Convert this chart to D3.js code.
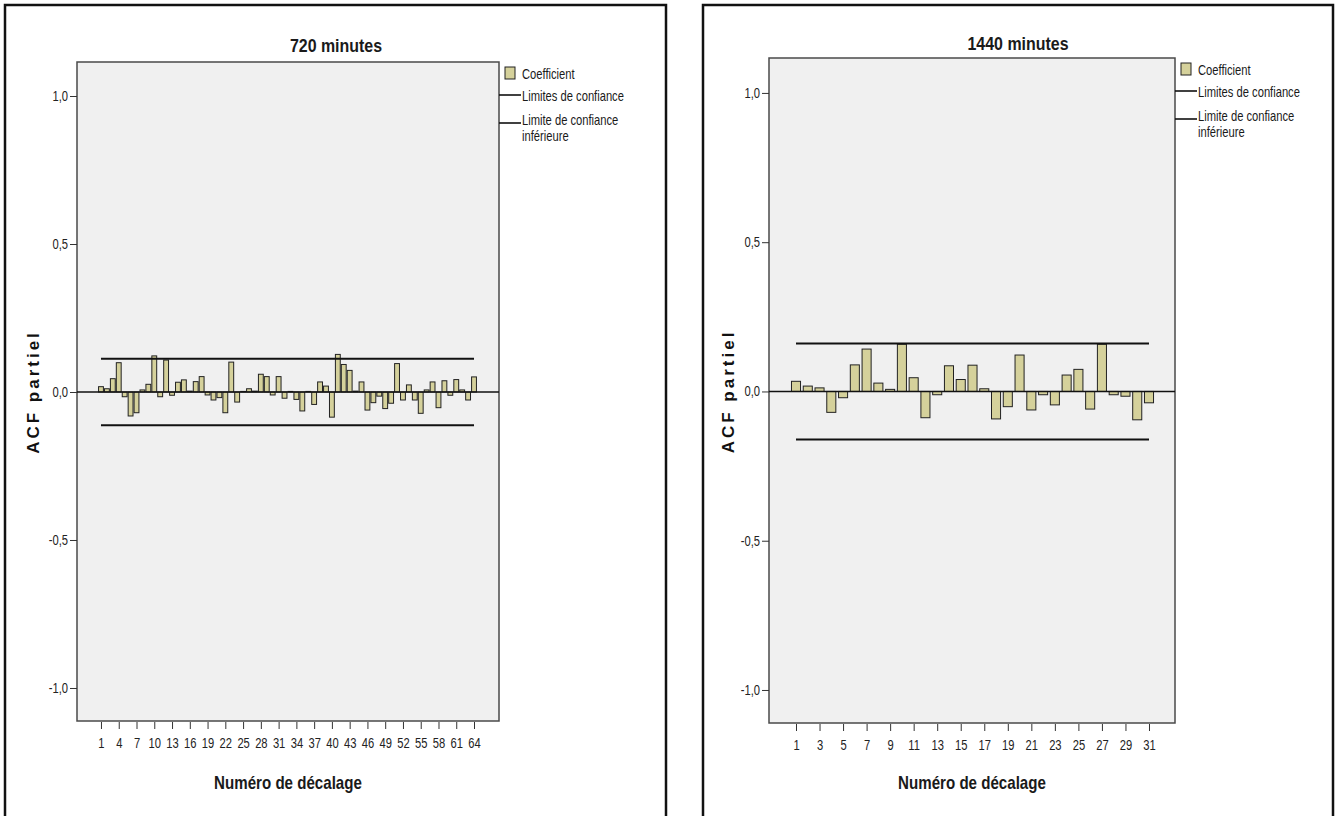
<!DOCTYPE html>
<html lang="fr">
<head>
<meta charset="utf-8">
<title>ACF partiel</title>
<script src="https://cdn.jsdelivr.net/npm/d3@7"></script>
<style>
  body, html { margin: 0; background: #fff; overflow: hidden; }
  svg { display: block; font-family: "Liberation Sans", Arial, sans-serif; }
</style>
</head>
<body>
<svg width="1339" height="816"></svg>
<script>
// partial autocorrelation coefficients per lag
const lags720 = d3.range(1, 65);
const pacf720 = [0.018, 0.011, 0.045, 0.099, -0.016, -0.081, -0.070, 0.007, 0.026, 0.122,
                 -0.016, 0.108, -0.011, 0.033, 0.041, 0.003, 0.035, 0.052, -0.010, -0.027,
                 -0.019, -0.070, 0.101, -0.034, 0.002, 0.011, 0.003, 0.060, 0.052, -0.010,
                 0.052, -0.021, 0.002, -0.025, -0.064, 0.002, -0.042, 0.034, 0.020, -0.085,
                 0.127, 0.093, 0.073, 0.003, 0.034, -0.061, -0.036, -0.014, -0.056, -0.038,
                 0.096, -0.027, 0.024, -0.027, -0.072, 0.007, 0.034, -0.053, 0.038, -0.011,
                 0.042, 0.007, -0.027, 0.051];
const conf720 = 0.112;
const xTicks720 = d3.range(1, 65, 3);

const lags1440 = d3.range(1, 32);
const pacf1440 = [0.034, 0.018, 0.012, -0.070, -0.021, 0.089, 0.142, 0.028, 0.007, 0.158,
                  0.046, -0.088, -0.011, 0.086, 0.040, 0.088, 0.009, -0.092, -0.051, 0.122,
                  -0.062, -0.011, -0.045, 0.055, 0.074, -0.059, 0.158, -0.011, -0.016, -0.095,
                  -0.038];
const conf1440 = 0.161;
const xTicks1440 = d3.range(1, 32, 2);

const yTicks = [1, 0.5, 0, -0.5, -1];
const legendLabels = ["Coefficient", "Limites de confiance", ["Limite de confiance", "inférieure"]];

const barFill = "#d5d19b";
const NARROW = 0.8;   // horizontal squeeze, gives an Arial Narrow look
const fmt = v => d3.format(".1f")(v).replace(".", ",").replace("−", "-");

const svg = d3.select("svg");

// condensed text placed at (x, y)
function ntext(parent, x, y, str, size, opts = {}) {
  const t = parent.append("g")
    .attr("transform", `translate(${x},${y}) scale(${opts.k || NARROW},1)`)
    .append("text")
    .attr("font-size", size)
    .attr("fill", opts.fill || "#1a1a1a")
    .attr("font-weight", opts.bold ? "bold" : null)
    .attr("text-anchor", opts.anchor || "start");
  const lines = Array.isArray(str) ? str : [str];
  lines.forEach((s, i) => t.append("tspan").attr("x", 0).attr("y", i * (opts.lh || 0)).text(s));
  return t;
}

function drawPanel(p) {
  const g = svg.append("g");

  // outer frame (runs off the bottom edge)
  g.append("rect")
    .attr("x", p.frame[0]).attr("y", 5)
    .attr("width", p.frame[1] - p.frame[0]).attr("height", 840)
    .attr("fill", "none").attr("stroke", "#111").attr("stroke-width", 2.5);

  const x = d3.scaleLinear().domain(p.xDomain).range([p.left, p.right]);
  const y = d3.scaleLinear().domain(p.yDomain).range([p.bottom, p.top]);
  const step = x(2) - x(1);
  const bw = step * p.barFrac;

  g.append("rect")
    .attr("x", p.left).attr("y", p.top)
    .attr("width", p.right - p.left).attr("height", p.bottom - p.top)
    .attr("fill", "#f0f0f0").attr("stroke", "#4a4a4a").attr("stroke-width", 1.5);

  // y axis
  const yAxis = d3.axisLeft(y).tickValues(yTicks).tickFormat(fmt).tickSize(7).tickPadding(2);
  const ya = g.append("g").attr("transform", `translate(${p.left},0)`).call(yAxis);
  ya.select(".domain").remove();
  ya.selectAll("line").attr("stroke", "#333");
  ya.selectAll("text")
    .attr("font-family", null).attr("font-size", 14).attr("fill", "#222")
    .attr("x", -9 / NARROW).attr("transform", `scale(${NARROW},1)`);

  // x axis
  const xAxis = d3.axisBottom(x).tickValues(p.xTicks).tickFormat(d3.format("d")).tickSize(7).tickPadding(9);
  const xa = g.append("g").attr("transform", `translate(0,${p.bottom + 1})`).call(xAxis);
  xa.select(".domain").remove();
  xa.selectAll("line").attr("stroke", "#333");
  xa.selectAll("text")
    .attr("font-family", null).attr("font-size", 14).attr("fill", "#222")
    .attr("transform", `scale(${NARROW},1)`);

  // coefficient bars
  g.append("g").selectAll("rect")
    .data(p.values.map((v, i) => ({ lag: p.lags[i], v })))
    .join("rect")
    .attr("x", d => x(d.lag) - bw / 2)
    .attr("y", d => y(Math.max(0, d.v)))
    .attr("width", bw)
    .attr("height", d => Math.abs(y(d.v) - y(0)))
    .attr("fill", barFill)
    .attr("stroke", "#222")
    .attr("stroke-width", 1);

  // zero reference line
  g.append("line")
    .attr("x1", p.left).attr("x2", p.right)
    .attr("y1", y(0)).attr("y2", y(0))
    .attr("stroke", "#111").attr("stroke-width", 1.6);

  // confidence limits
  const first = p.lags[0], last = p.lags[p.lags.length - 1];
  [p.conf, -p.conf].forEach(c => {
    g.append("line")
      .attr("x1", x(first)).attr("x2", x(last))
      .attr("y1", y(c)).attr("y2", y(c))
      .attr("stroke", "#111").attr("stroke-width", 2);
  });

  // titles
  ntext(g, p.titleX, p.titleY, p.title, 19, { bold: true, anchor: "middle", k: 0.84 });
  ntext(g, (p.left + p.right) / 2, 789, "Numéro de décalage", 18, { bold: true, anchor: "middle", k: 0.84 });

  g.append("text")
    .attr("transform", `translate(${p.ylabelX},${y(0)}) rotate(-90)`)
    .attr("text-anchor", "middle")
    .attr("font-size", 17).attr("font-weight", "bold").attr("letter-spacing", 3)
    .attr("fill", "#111").text("ACF partiel");

  // legend
  const ly = p.legendY;
  const lg = g.append("g");
  lg.append("rect")
    .attr("x", p.right + 6).attr("y", ly)
    .attr("width", 10).attr("height", 12)
    .attr("fill", barFill).attr("stroke", "#222").attr("stroke-width", 1);
  ntext(lg, p.right + 23, ly + 12, legendLabels[0], 14);

  [[legendLabels[1], ly + 28, ly + 34], [legendLabels[2], ly + 56, ly + 58]].forEach(([lab, lineY, textY]) => {
    lg.append("line")
      .attr("x1", p.right).attr("x2", p.right + 22)
      .attr("y1", lineY).attr("y2", lineY)
      .attr("stroke", "#111").attr("stroke-width", 1.6);
    ntext(lg, p.right + 23, textY, lab, 14, { lh: 16 });
  });
}

drawPanel({
  frame: [5, 666], left: 77, right: 499, top: 62, bottom: 721,
  xDomain: [-3.05, 68.22], yDomain: [-1.1115, 1.1149],
  lags: lags720, values: pacf720, conf: conf720, xTicks: xTicks720,
  barFrac: 0.82, title: "720 minutes", titleX: 336, titleY: 52, ylabelX: 39, legendY: 67
});

drawPanel({
  frame: [703, 1333], left: 769, right: 1175, top: 58, bottom: 723,
  xDomain: [-1.295, 33.21], yDomain: [-1.1106, 1.117],
  lags: lags1440, values: pacf1440, conf: conf1440, xTicks: xTicks1440,
  barFrac: 0.77, title: "1440 minutes", titleX: 1018, titleY: 50, ylabelX: 734, legendY: 63
});
</script>
</body>
</html>
